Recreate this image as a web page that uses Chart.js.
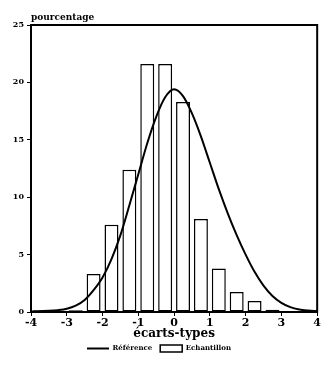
<!DOCTYPE html>
<html><head><meta charset="utf-8">
<script src="https://cdn.jsdelivr.net/npm/chart.js@4/dist/chart.umd.min.js"></script>
<style>html,body{margin:0;padding:0;background:#fff;overflow:hidden}</style>
</head><body>
<canvas id="c" width="322" height="370" style="width:322px;height:370px;display:block"></canvas>
<script>
const binCenters   = [-3.75, -3.25, -2.75, -2.25, -1.75, -1.25, -0.75, -0.25, 0.25, 0.75, 1.25, 1.75, 2.25, 2.75];
const sampleValues = [0.15, 0.1, 0.15, 3.3, 7.6, 12.4, 21.6, 21.6, 18.3, 8.1, 3.8, 1.75, 0.95, 0.2];
const curveX = [-4, -3.75, -3.5, -3.25, -3, -2.75, -2.5, -2.25, -2, -1.75, -1.5, -1.25, -1, -0.75, -0.5, -0.25, 0, 0.25, 0.5, 0.75, 1, 1.25, 1.5, 1.75, 2, 2.25, 2.5, 2.75, 3, 3.25, 3.5, 3.75, 4];
const curveY = [0.04, 0.07, 0.1, 0.16, 0.28, 0.55, 1.05, 1.9, 3.0, 4.6, 6.7, 9.3, 12.0, 14.7, 17.0, 18.7, 19.4, 18.8, 17.3, 15.3, 13.0, 10.7, 8.6, 6.7, 5.0, 3.5, 2.3, 1.4, 0.8, 0.42, 0.22, 0.13, 0.08];
const yTickValues = [0, 5, 10, 15, 20, 25];
const xTickValues = [-4, -3, -2, -1, 0, 1, 2, 3, 4];
const yAxisTitle = 'pourcentage';
const xAxisTitle = 'écarts-types';
const seriesNames = ['Référence', 'Echantillon'];

const FONT = '"DejaVu Serif", "Liberation Serif", serif';
Chart.defaults.font.family = FONT;
Chart.defaults.color = '#000';

const boxPlugin = {
  id: 'box',
  afterDatasetsDraw(chart) {
    const {ctx, chartArea: a} = chart;
    ctx.save();
    ctx.strokeStyle = '#000';
    ctx.lineWidth = 2;
    ctx.strokeRect(a.left, a.top, a.right - a.left, a.bottom - a.top);
    ctx.font = 'bold 9px ' + FONT;
    ctx.fillStyle = '#000';
    ctx.textBaseline = 'bottom';
    ctx.textAlign = 'left';
    ctx.fillText(yAxisTitle, a.left, a.top - 3);
    ctx.restore();
  }
};

new Chart(document.getElementById('c'), {
  type: 'bar',
  data: {
    datasets: [
      {
        type: 'line',
        label: seriesNames[0],
        data: curveX.map((x, i) => ({x, y: curveY[i]})),
        borderColor: '#000',
        backgroundColor: '#000',
        borderWidth: 2,
        pointRadius: 0,
        pointStyle: 'line',
        cubicInterpolationMode: 'monotone',
        fill: false
      },
      {
        type: 'bar',
        label: seriesNames[1],
        data: binCenters.map((x, i) => ({x, y: sampleValues[i]})),
        backgroundColor: '#fff',
        borderColor: '#000',
        borderWidth: 1.5,
        borderSkipped: false,
        pointStyle: 'rect',
        barPercentage: 0.78,
        categoryPercentage: 1
      }
    ]
  },
  options: {
    responsive: false,
    animation: false,
    layout: {padding: {top: 25, right: 4, left: 0, bottom: 8}},
    plugins: {
      legend: {
        display: true,
        position: 'bottom',
        labels: {
          usePointStyle: true,
          pointStyleWidth: 22,
          boxHeight: 8,
          padding: 8,
          font: {size: 7, weight: 'bold'},
          color: '#000'
        }
      },
      tooltip: {enabled: false},
      title: {display: false}
    },
    scales: {
      x: {
        type: 'linear',
        offset: false,
        min: -4, max: 4,
        afterBuildTicks(scale) { scale.ticks = xTickValues.map(v => ({value: v})); },
        afterFit(scale) { scale.height = 25; },
        ticks: {font: {size: 11, weight: 'bold'}, padding: 1, maxRotation: 0, autoSkip: false},
        grid: {display: true, drawOnChartArea: false, tickLength: 4, color: '#000', lineWidth: 1, offset: false},
        border: {display: true, color: '#000', width: 2},
        title: {display: true, text: xAxisTitle, font: {size: 12, weight: 'bold'}, padding: {top: 0, bottom: -4}}
      },
      y: {
        min: 0, max: 25,
        afterBuildTicks(scale) { scale.ticks = yTickValues.map(v => ({value: v})); },
        afterFit(scale) { scale.width = 31; },
        ticks: {font: {size: 8, weight: 'bold'}, padding: 3},
        grid: {display: true, drawOnChartArea: false, tickLength: 4, color: '#000', lineWidth: 1},
        border: {display: true, color: '#000', width: 2}
      }
    }
  },
  plugins: [boxPlugin]
});
</script>
</body></html>
